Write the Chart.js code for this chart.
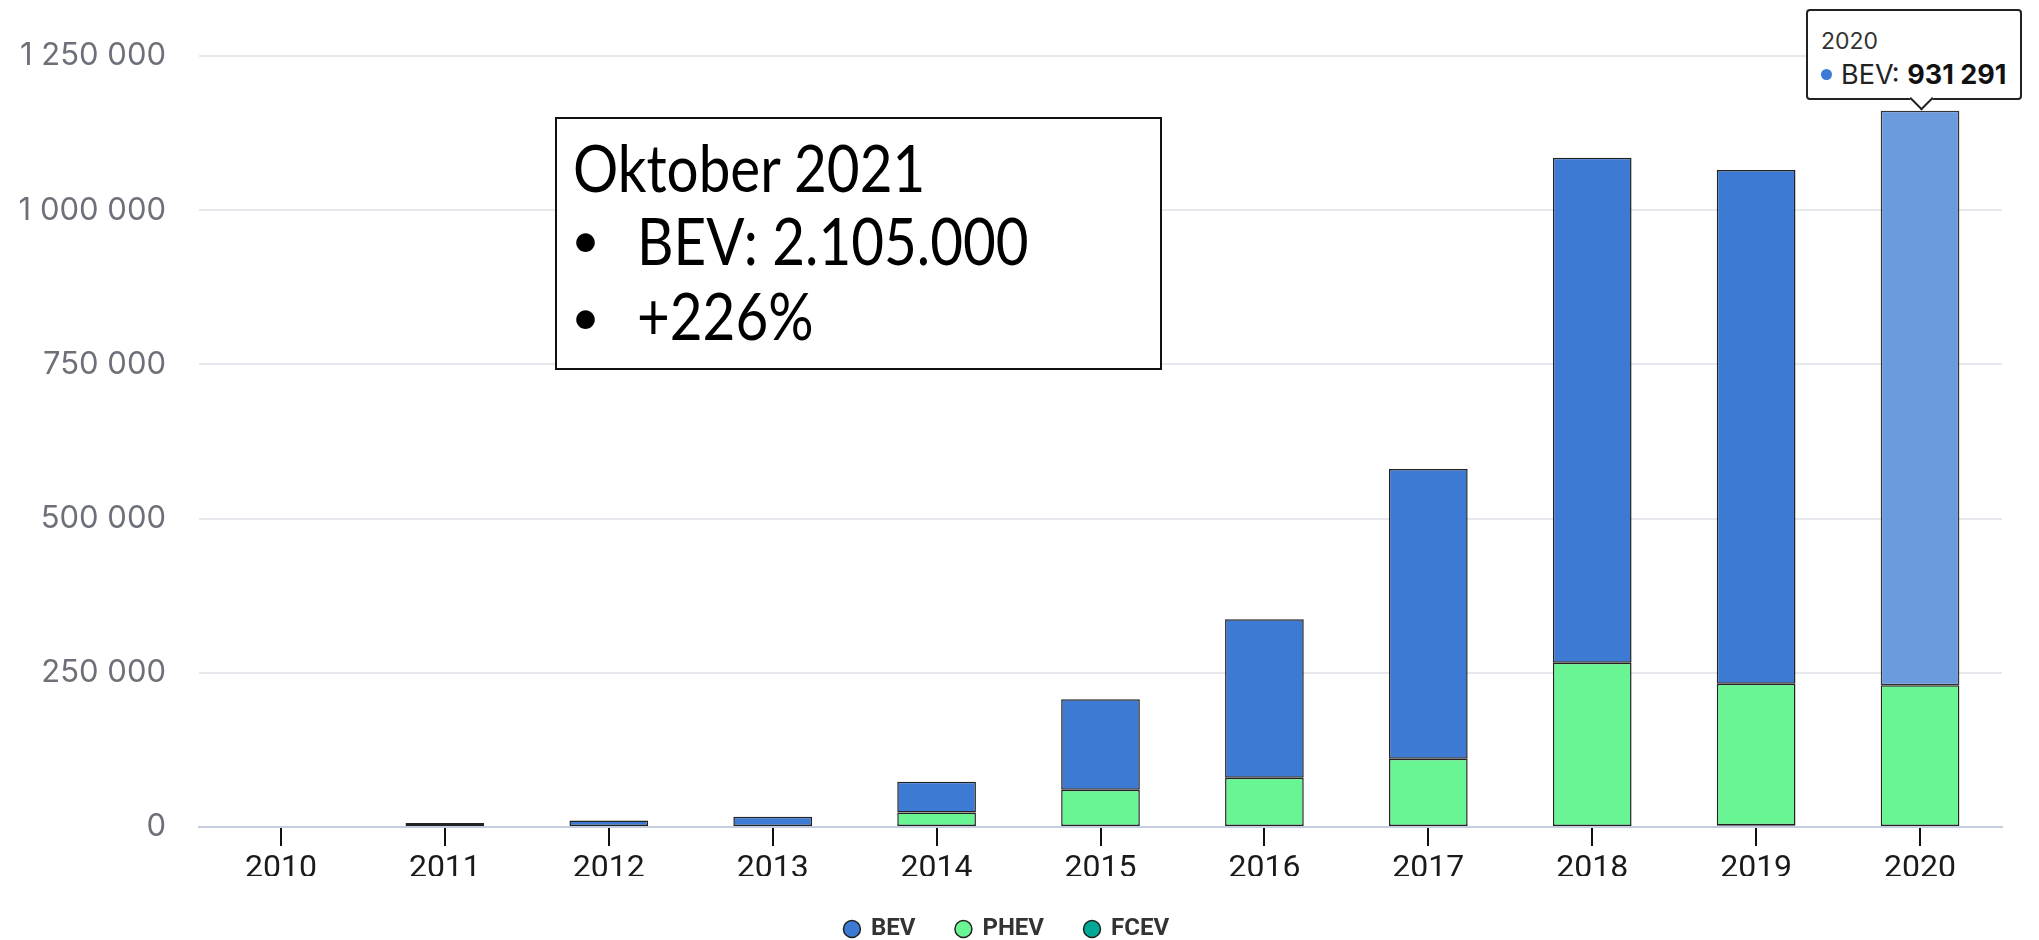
<!DOCTYPE html>
<html>
<head>
<meta charset="utf-8">
<script src="https://cdn.jsdelivr.net/npm/chart.js@4.4.0/dist/chart.umd.min.js"></script>
<style>
    html, body { margin: 0; padding: 0; background: #fff; overflow: hidden; }
    #wrap { position: relative; width: 2039px; height: 951px; }
    #note {
        position: absolute; left: 555px; top: 117px; width: 607px; height: 253px;
        box-sizing: border-box; border: 2px solid #111; background: #fff;
        font-family: Lato, "Open Sans", sans-serif; font-size: 65px; line-height: 65px; color: #000;
    }
    #note span { position: absolute; white-space: nowrap; transform: scaleX(0.87); transform-origin: 0 0; }
    #note span.dot { font-size: 50px; line-height: 50px; transform: none; }
    #tip {
        position: absolute; display: none; box-sizing: border-box;
        background: #fff; border: 2px solid #222; border-radius: 4px;
        padding: 10px 14px 9px 13px; font-family: Inter, Roboto, sans-serif; color: #222;
        white-space: nowrap;
    }
    #tip .tt-title { font-size: 23px; line-height: 40px; color: #333; }
    #tip .tt-body { font-size: 27px; line-height: 28px; color: #222; }
    #tip .tt-dot { display: inline-block; width: 11px; height: 11px; border-radius: 50%; margin-right: 9px; vertical-align: 4px; }
    #tip .tt-val { font-weight: 700; color: #111; }
    #tip .tt-caret {
        position: absolute; bottom: -9px; width: 15px; height: 15px; background: #fff;
        border-right: 2px solid #222; border-bottom: 2px solid #222; transform: rotate(45deg);
    }
</style>
</head>
<body>
<div id="wrap">
    <canvas id="chart"></canvas>
    <div id="note">
        <span style="left:16px; top:16px;">Oktober 2021</span>
        <span class="dot" style="left:14px; top:95px;">&bull;</span>
        <span style="left:80px; top:89px;">BEV: 2.105.000</span>
        <span class="dot" style="left:14px; top:172px;">&bull;</span>
        <span style="left:80px; top:164px;">+226%</span>
    </div>
    <div id="tip">
        <div class="tt-title"></div>
        <div class="tt-body"><span class="tt-dot"></span><span class="tt-name"></span><span class="tt-val"></span></div>
        <div class="tt-caret"></div>
    </div>
</div>
<script>
// values
const years = ["2010", "2011", "2012", "2013", "2014", "2015", "2016", "2017", "2018", "2019", "2020"];
const bev  = [0, 6500, 10500, 16500, 50000, 146700, 257100, 469700, 819000, 833000, 931291];
const phev = [0, 0, 0, 0, 23400, 60300, 79900, 110700, 266200, 229500, 230000];
const fcev = [0, 0, 0, 0, 0, 0, 0, 0, 0, 2700, 0];
const yTicks = [0, 250000, 500000, 750000, 1000000, 1250000];

const activeYear = "2020";

function fmt(n) {
    return String(Math.round(n)).replace(/\B(?=(\d{3})+(?!\d))/g, " ");
}

function externalTooltip(context) {
    const { chart, tooltip } = context;
    const el = document.getElementById("tip");
    if (tooltip.opacity === 0 || !tooltip.dataPoints || !tooltip.dataPoints.length) {
        el.style.display = "none";
        return;
    }
    const dp = tooltip.dataPoints[0];
    el.querySelector(".tt-title").textContent = dp.label;
    el.querySelector(".tt-name").textContent = dp.dataset.label + ": ";
    el.querySelector(".tt-val").textContent = fmt(dp.raw);
    el.querySelector(".tt-dot").style.background = dp.dataset.backgroundColor;
    el.style.display = "block";

    const w = el.offsetWidth;
    const h = el.offsetHeight;
    let left = tooltip.caretX - w / 2 - 6;
    left = Math.min(left, chart.width - w - 17);
    el.style.left = left + "px";
    el.style.top = (tooltip.caretY - h - 11) + "px";
    const caret = el.querySelector(".tt-caret");
    caret.style.left = (tooltip.caretX - left - 9.5) + "px";
}

// short black tick marks under the x axis, one per category
const xTickMarks = {
    id: "xTickMarks",
    afterDraw(chart) {
        const xs = chart.scales.x;
        const y0 = chart.chartArea.bottom;
        const c = chart.ctx;
        c.save();
        c.strokeStyle = "#111";
        c.lineWidth = 2;
        years.forEach((label, i) => {
            const px = Math.round(xs.getPixelForValue(i));
            c.beginPath();
            c.moveTo(px, y0 + 1);
            c.lineTo(px, y0 + 19);
            c.stroke();
        });
        c.restore();
    },
};

const ctx = document.getElementById("chart").getContext("2d");
const chart = new Chart(ctx, {
    type: "bar",
    data: {
        labels: years,
        datasets: [
            {
                label: "FCEV",
                data: fcev,
                backgroundColor: "#00a896",
                borderColor: "#222",
                borderWidth: 1.5,
                borderSkipped: false,
            },
            {
                label: "PHEV",
                data: phev,
                backgroundColor: "#69f593",
                borderColor: "#222",
                borderWidth: 1.5,
                borderSkipped: false,
            },
            {
                label: "BEV",
                data: bev,
                backgroundColor: "#3d7ad4",
                hoverBackgroundColor: "#6c9bdd",
                borderColor: "#222",
                hoverBorderColor: "#333",
                borderWidth: 1.5,
                borderSkipped: false,
            },
        ],
    },
    options: {
        responsive: true,
        maintainAspectRatio: false,
        animation: false,
        events: [],
        barPercentage: 0.48,
        categoryPercentage: 1,
        layout: { padding: { top: 56, right: 37, left: 12, bottom: 0 } },
        plugins: {
            legend: {
                position: "bottom",
                reverse: true,
                labels: {
                    usePointStyle: true,
                    pointStyle: "circle",
                    boxWidth: 14,
                    boxHeight: 12,
                    padding: 41,
                    color: "#333",
                    font: { family: "Roboto", size: 24, weight: "bold" },
                },
            },
            tooltip: {
                enabled: false,
                external: externalTooltip,
            },
        },
        scales: {
            x: {
                stacked: true,
                grid: { display: false },
                border: { display: true, color: "#c5cde0", width: 2 },
                ticks: {
                    color: "#1a1a1a",
                    padding: 18,
                    font: { family: "Roboto", size: 32, lineHeight: 1 },
                },
                afterFit: (scale) => { scale.height = 49; },
            },
            y: {
                stacked: true,
                min: 0,
                max: yTicks[yTicks.length - 1],
                grid: { color: "#e6e8ee", lineWidth: 2, drawTicks: false },
                border: { display: false },
                afterBuildTicks: (scale) => { scale.ticks = yTicks.map(v => ({ value: v })); },
                ticks: {
                    color: "#6e7079",
                    padding: 33,
                    font: { family: "Inter", size: 31 },
                    callback: (v) => fmt(v),
                },
                afterFit: (scale) => { scale.width = 187; },
            },
        },
    },
    plugins: [xTickMarks],
});

// hovered state on the 2020 BEV bar, as in the picture
const bevIndex = chart.data.datasets.findIndex(d => d.label === "BEV");
const active = [{ datasetIndex: bevIndex, index: years.indexOf(activeYear) }];
chart.setActiveElements(active);
chart.tooltip.setActiveElements(active, { x: 0, y: 0 });
chart.update();
</script>
</body>
</html>
